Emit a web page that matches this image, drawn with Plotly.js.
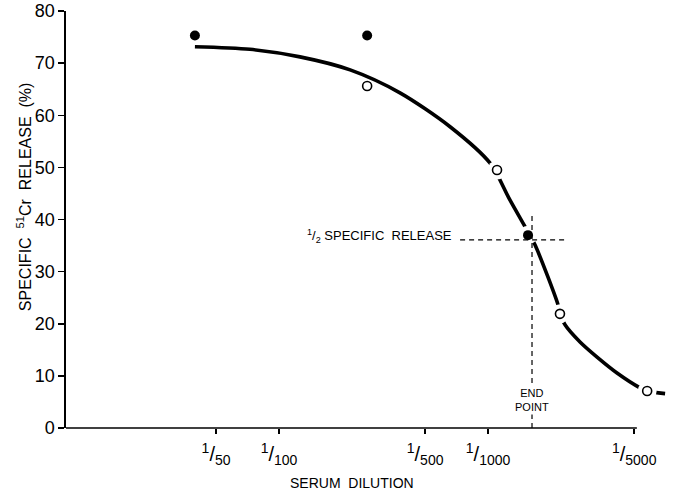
<!DOCTYPE html>
<html>
<head>
<meta charset="utf-8">
<script src="https://cdn.plot.ly/plotly-3.0.1.min.js"></script>
<style>html,body{margin:0;padding:0;background:#fff;}#chart{width:683px;height:492px;}</style>
</head>
<body>
<div id="chart"></div>
<script>
// Serum dilution (reciprocal) and specific 51Cr release (%)
const curveDil = [39.6, 72.6, 126, 219, 379, 658, 1023, 1274, 1553, 1679, 2163, 2208, 2335, 2754, 3323, 4140, 5334, 5770, 7030];
const curveVal = [73.15, 72.65, 71.2, 68.7, 64.3, 57.8, 50.8, 43.7, 37.6, 35.1, 23.6, 21.9, 19.8, 16.5, 13.6, 10.55, 7.7, 7.1, 6.6];

const filledDil = [39.6, 264, 1553];
const filledVal = [75.3, 75.3, 37.0];

const openDil = [264, 1104, 2208, 5770];
const openVal = [65.6, 49.5, 21.9, 7.1];

const haloDil = [1104, 1553, 2208, 5770];
const haloVal = [49.5, 37.0, 21.9, 7.1];

const halfLineDil = [735, 2360];
const halfLineVal = [36.1, 36.1];
const endLineDil = [1623, 1623];
const endLineVal = [0, 41.4];

const tickDil = [50, 100, 500, 1000, 5000];
const tickText = ['<sup>1</sup>/<sub>50</sub>', '<sup>1</sup>/<sub>100</sub>', '<sup>1</sup>/<sub>500</sub>', '<sup>1</sup>/<sub>1000</sub>', '<sup>1</sup>/<sub>5000</sub>'];
const yTicks = [0, 10, 20, 30, 40, 50, 60, 70, 80];

const FONT = 'Liberation Sans, Arial, sans-serif';

const traces = [
  {x: curveDil, y: curveVal, mode: 'lines', line: {color: '#000', width: 3.6, shape: 'spline', smoothing: 0.8}},
  {x: haloDil, y: haloVal, mode: 'markers', marker: {color: '#fff', size: 19, line: {width: 0}}},
  {x: halfLineDil, y: halfLineVal, mode: 'lines', line: {color: '#000', width: 1.2, dash: '5px,4px'}},
  {x: endLineDil, y: endLineVal, mode: 'lines', line: {color: '#000', width: 1.2, dash: '5px,4px'}},
  {x: filledDil, y: filledVal, mode: 'markers', marker: {color: '#000', size: 10, line: {width: 0}}, cliponaxis: false},
  {x: openDil, y: openVal, mode: 'markers', marker: {color: '#fff', size: 9, line: {color: '#000', width: 1.6}}, cliponaxis: false}
];

const layout = {
  width: 683, height: 492,
  margin: {l: 66, r: 11, t: 11, b: 64},
  paper_bgcolor: '#fff', plot_bgcolor: '#fff',
  showlegend: false, hovermode: false,
  font: {family: FONT, color: '#000'},
  xaxis: {
    type: 'log', range: [0.981, 3.88],
    tickvals: tickDil, ticktext: tickText,
    ticks: 'outside', ticklen: 5, tickwidth: 1.5, tickcolor: '#000',
    ticklabelstandoff: 3,
    showline: false, showgrid: false, zeroline: false,
    tickfont: {family: FONT, size: 20, color: '#000'}
  },
  yaxis: {
    range: [0, 80], tickvals: yTicks,
    ticks: 'outside', ticklen: 6, tickwidth: 1.5, tickcolor: '#000',
    showline: true, linewidth: 1.6, linecolor: '#000',
    showgrid: false, zeroline: false,
    tickfont: {family: FONT, size: 18, color: '#000'}
  },
  shapes: [
    {type: 'line', xref: 'paper', yref: 'paper', x0: 0, x1: 0.942, y0: 0, y1: 0, line: {color: '#000', width: 1.6}}
  ],
  annotations: [
    {xref: 'paper', yref: 'paper', x: -0.07, y: 0.555, xanchor: 'center', yanchor: 'middle', textangle: -90, showarrow: false,
     text: 'SPECIFIC  <sup>51</sup>Cr  RELEASE  (%)', font: {family: FONT, size: 16, color: '#000'}},
    {xref: 'paper', yref: 'paper', x: 0.472, y: -0.132, xanchor: 'center', yanchor: 'middle', showarrow: false,
     text: 'SERUM  DILUTION', font: {family: FONT, size: 14, color: '#000'}},
    {xref: 'paper', yref: 'paper', x: 0.641, y: 0.461, xanchor: 'right', yanchor: 'middle', showarrow: false,
     text: '<sup>1</sup>/<sub>2</sub> SPECIFIC  RELEASE', font: {family: FONT, size: 13, color: '#000'}},
    {xref: 'paper', yref: 'paper', x: 0.769, y: 0.066, xanchor: 'center', yanchor: 'middle', showarrow: false, bgcolor: '#fff',
     text: 'END<br>POINT', font: {family: FONT, size: 11, color: '#000'}}
  ]
};

Plotly.newPlot('chart', traces, layout, {staticPlot: true, displayModeBar: false});
</script>
</body>
</html>
